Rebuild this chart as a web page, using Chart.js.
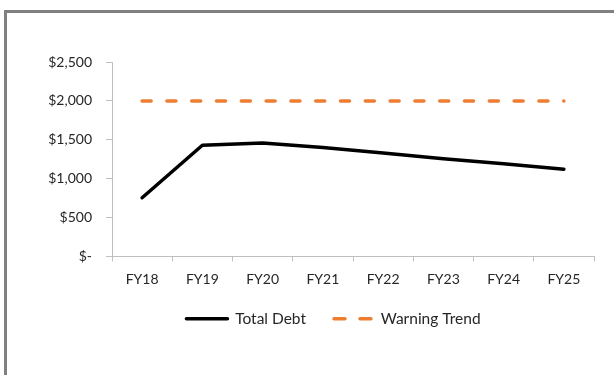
<!DOCTYPE html>
<html lang="en">
<head>
  <meta charset="UTF-8">
  <title>Total Debt vs Warning Trend</title>
  <script src="https://cdn.jsdelivr.net/npm/chart.js"></script>
  <style>
    body { margin: 0; background: #fff; }
    #frame { position: absolute; left: 4px; top: 10px; width: 700px; height: 500px; border-left: 3px solid #808080; border-top: 3px solid #808080; }
    #wrap { position: absolute; left: 0; top: 0; width: 614px; height: 375px; }
  </style>
</head>
<body>
  <div id="frame"></div>
  <div id="wrap"><canvas id="debtChart" width="614" height="375"></canvas></div>

  <script>
    const categories = ['FY18', 'FY19', 'FY20', 'FY21', 'FY22', 'FY23', 'FY24', 'FY25'];
    const totalDebt = [755, 1430, 1458, 1402, 1330, 1255, 1192, 1122];
    const warningTrend = [2000, 2000, 2000, 2000, 2000, 2000, 2000, 2000];
    const yTickValues = [0, 500, 1000, 1500, 2000, 2500];
    const yTickLabels = ['$-', '$500', '$1,000', '$1,500', '$2,000', '$2,500'];

    const axisColor = '#bfbfbf';
    const textColor = '#262626';

    // Excel puts the legend a little right of the canvas centre
    const legendShift = {
      id: 'legendShift',
      afterLayout(chart) {
        chart.legend.left += 36.5;
        chart.legend.right += 36.5;
      }
    };

    new Chart(document.getElementById('debtChart'), {
      type: 'line',
      data: {
        labels: categories,
        datasets: [
          {
            label: 'Total Debt',
            data: totalDebt,
            borderColor: '#000000',
            backgroundColor: '#000000',
            borderWidth: 3.5,
            borderCapStyle: 'round',
            borderJoinStyle: 'round',
            pointRadius: 0,
            tension: 0
          },
          {
            label: 'Warning Trend',
            data: warningTrend,
            borderColor: '#ed7d31',
            backgroundColor: '#ed7d31',
            borderWidth: 3.5,
            borderDash: [9, 15.8],
            borderCapStyle: 'round',
            pointRadius: 0,
            tension: 0
          }
        ]
      },
      options: {
        responsive: false,
        animation: false,
        layout: { padding: { left: 0, right: 20, top: 62, bottom: 38.5 } },
        plugins: {
          tooltip: { enabled: false },
          legend: {
            position: 'bottom',
            labels: {
              usePointStyle: true,
              pointStyle: 'line',
              pointStyleWidth: 41,
              padding: 26,
              color: textColor,
              font: { family: 'Lato', size: 15.5 },
              generateLabels: chart => {
                const items = Chart.defaults.plugins.legend.labels.generateLabels(chart);
                items.forEach(item => {
                  const ds = chart.data.datasets[item.datasetIndex];
                  item.strokeStyle = ds.borderColor;
                  item.lineWidth = 3.5;
                  item.lineCap = 'round';
                  item.lineDash = ds.borderDash ? [11, 15] : [];
                  item.lineDashOffset = -2;
                });
                return items;
              }
            }
          }
        },
        scales: {
          x: {
            offset: true,
            grid: { offset: true, drawOnChartArea: false, drawTicks: true, tickLength: 5, color: axisColor },
            border: { color: axisColor, width: 1 },
            ticks: { color: textColor, padding: 10, font: { family: 'Lato', size: 14 } },
            afterFit: scale => { scale.height = 28.5; }
          },
          y: {
            min: 0,
            max: 2500,
            afterBuildTicks: scale => { scale.ticks = yTickValues.map(v => ({ value: v })); },
            grid: { drawOnChartArea: false, drawTicks: true, tickLength: 6, color: axisColor },
            border: { color: axisColor, width: 1 },
            ticks: {
              color: textColor,
              padding: 14,
              font: { family: 'Lato', size: 14 },
              callback: value => yTickLabels[yTickValues.indexOf(value)]
            },
            afterFit: scale => { scale.width = 112; }
          }
        }
      },
      plugins: [legendShift]
    });
  </script>
</body>
</html>
